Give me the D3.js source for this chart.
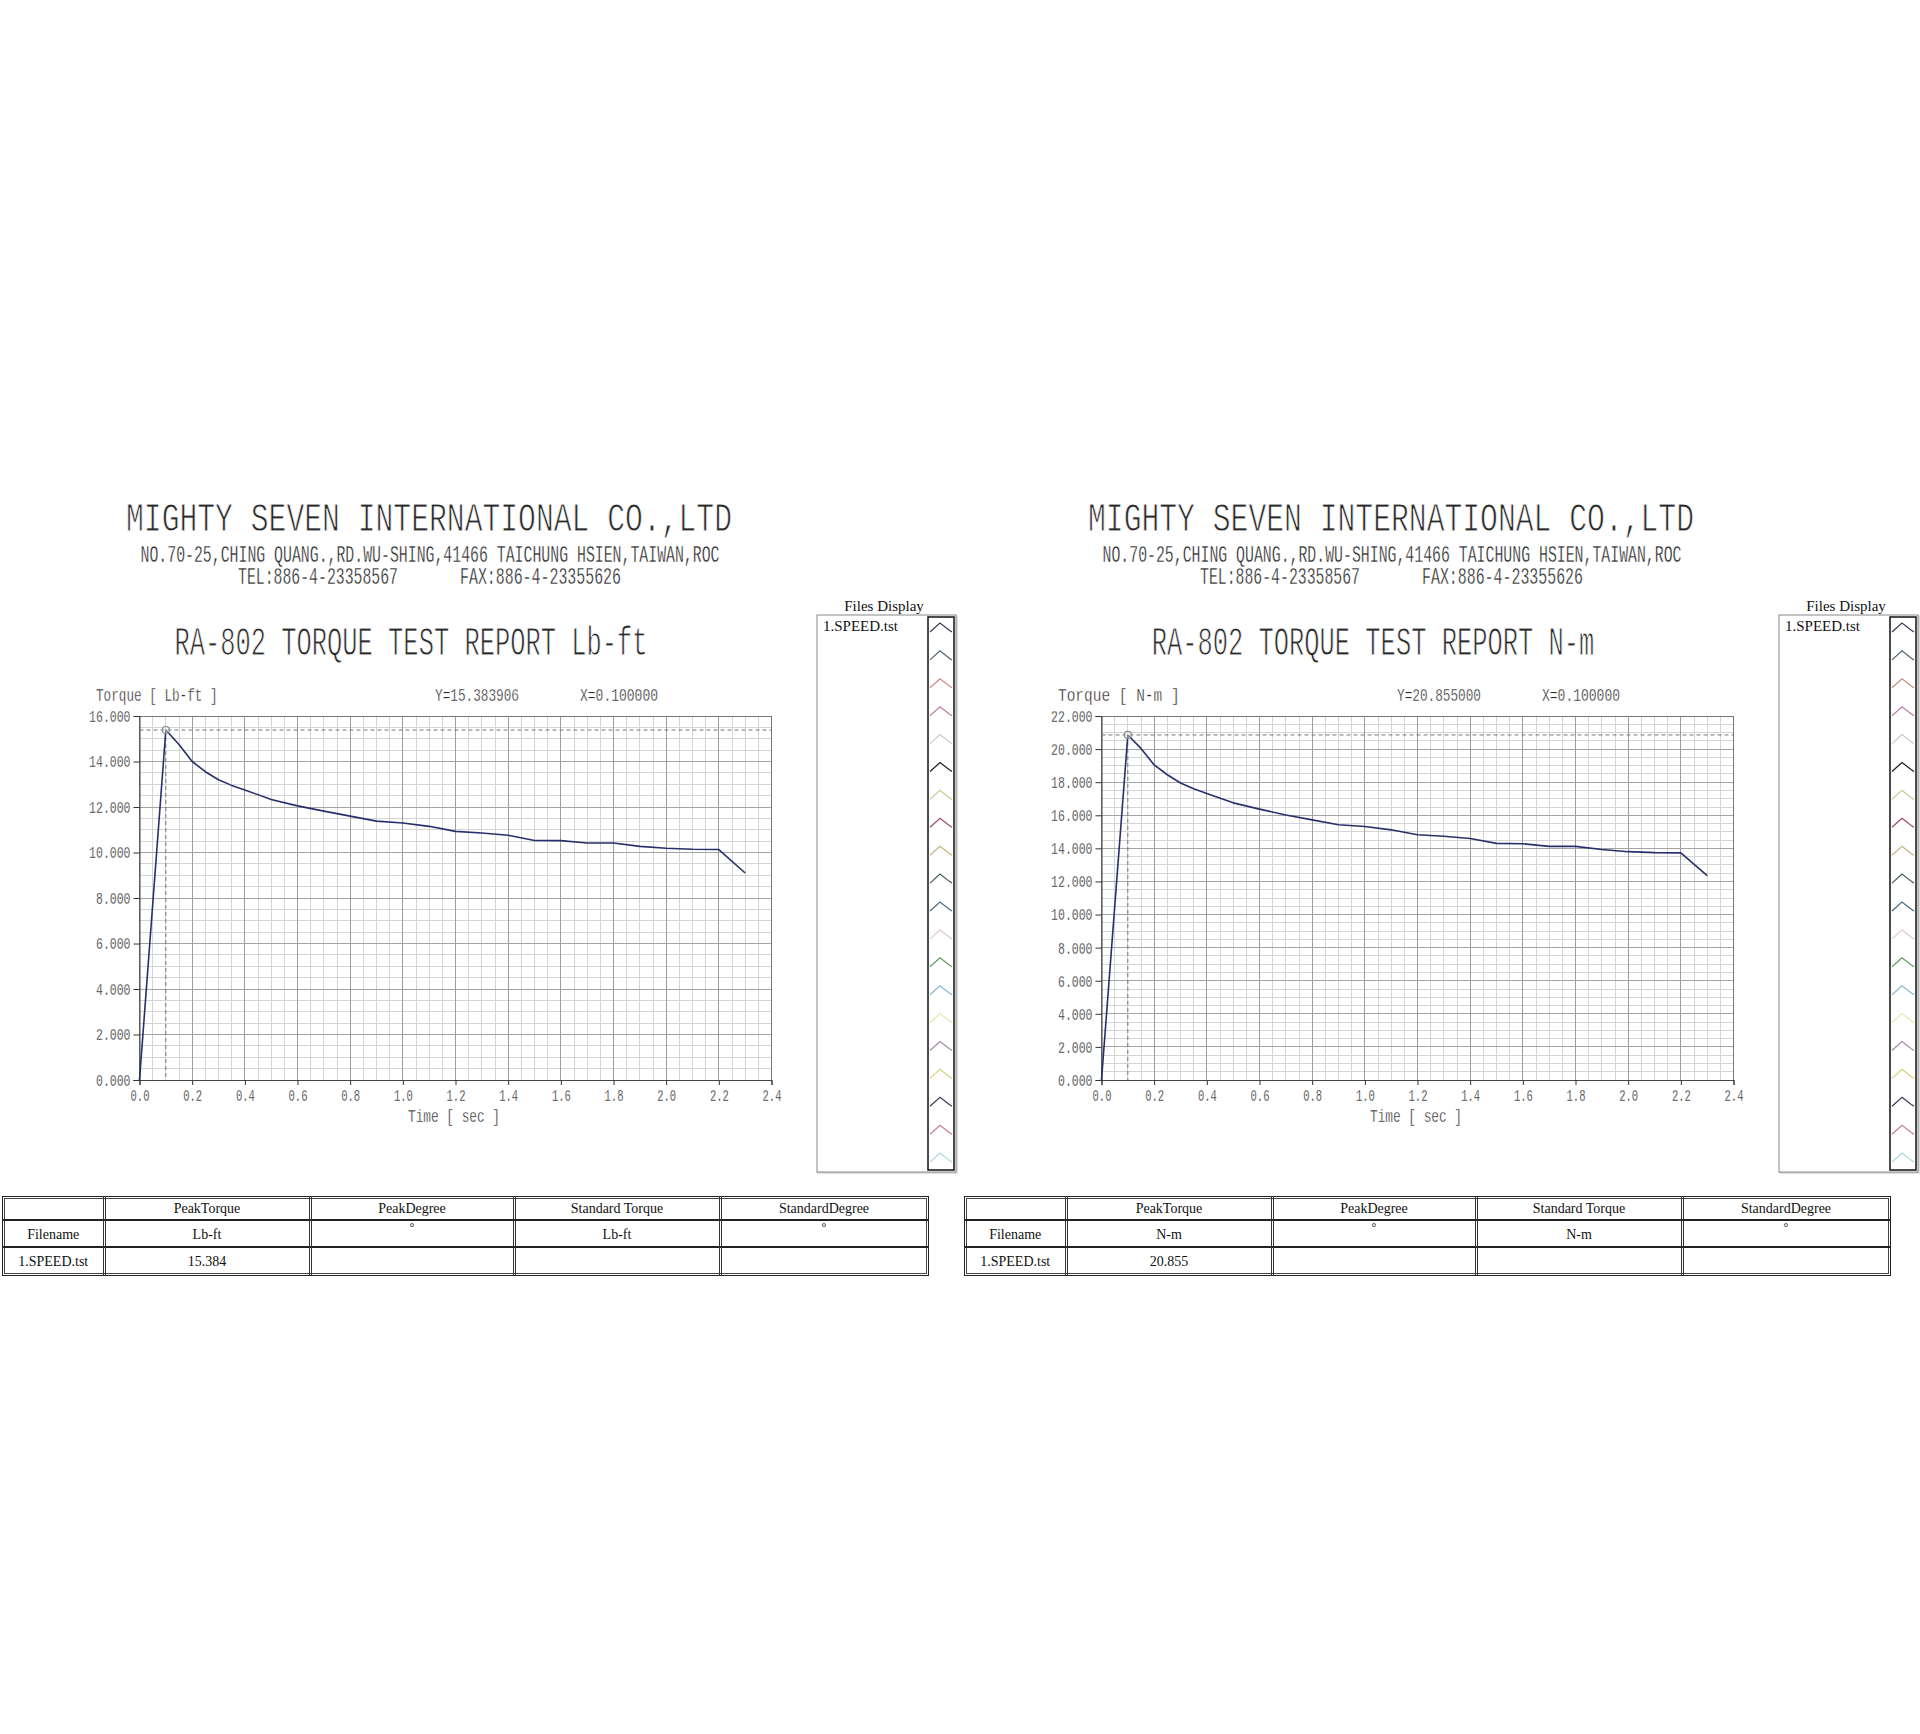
<!DOCTYPE html>
<html>
<head>
<meta charset="utf-8">
<script src="https://cdn.jsdelivr.net/npm/d3@7"></script>
<style>
  body { margin: 0; background: #fff; }
  svg { display: block; }
</style>
</head>
<body>
<svg id="report"></svg>
<script>
var pageWidth = 1920,
    pageHeight = 1734,
    panelShift = 962;

// header texts
var companyName = 'MIGHTY SEVEN INTERNATIONAL CO.,LTD';
var companyAddress = 'NO.70-25,CHING QUANG.,RD.WU-SHING,41466 TAICHUNG HSIEN,TAIWAN,ROC';
var companyTel = 'TEL:886-4-23358567';
var companyFax = 'FAX:886-4-23355626';

// one test file, sampled over time
var times = [0, 0.05, 0.1, 0.15, 0.2, 0.25, 0.3, 0.35, 0.4, 0.5, 0.6, 0.7, 0.8, 0.9,
    1.0, 1.1, 1.2, 1.3, 1.4, 1.5, 1.6, 1.7, 1.8, 1.9, 2.0, 2.1, 2.2, 2.3];
var torqueLbft = [0, 7.69, 15.384, 14.75, 14.0, 13.55, 13.2, 12.95, 12.75, 12.33, 12.05, 11.82, 11.6, 11.38,
    11.3, 11.15, 10.93, 10.86, 10.76, 10.53, 10.52, 10.42, 10.42, 10.27, 10.19, 10.14, 10.13, 9.1];
var torqueNm = [0, 10.43, 20.855, 20.04, 19.04, 18.45, 17.95, 17.6, 17.32, 16.75, 16.37, 16.02, 15.72, 15.43,
    15.32, 15.12, 14.82, 14.73, 14.6, 14.3, 14.28, 14.12, 14.12, 13.93, 13.8, 13.74, 13.73, 12.35];

var xTicks = [0, 0.2, 0.4, 0.6, 0.8, 1.0, 1.2, 1.4, 1.6, 1.8, 2.0, 2.2, 2.4];
var yTicksLbft = [0, 2, 4, 6, 8, 10, 12, 14, 16];
var yTicksNm = [0, 2, 4, 6, 8, 10, 12, 14, 16, 18, 20, 22];

var fileNames = ['1.SPEED.tst'];
var tableHeaders = ['', 'PeakTorque', 'PeakDegree', 'Standard Torque', 'StandardDegree'];
var iconColors = ['#3a3a58', '#4a6272', '#c88c7c', '#b87cac', '#c8c8d2', '#1e1e1e', '#c8c88e',
    '#a44a5c', '#c4b47c', '#3c5e46', '#4a6a86', '#e2c6d6', '#5a9c5a', '#8ab6ce', '#e6e6aa',
    '#a68aaa', '#d6d27c', '#3a3a5c', '#c67c96', '#a8d8de'];

var panels = [
    { unit: 'Lb-ft', axisUnit: 'Lb-ft', values: torqueLbft, yTicks: yTicksLbft, readout: 'Y=15.383906' },
    { unit: 'N-m', axisUnit: 'N-m  ', values: torqueNm, yTicks: yTicksNm, readout: 'Y=20.855000' }
];

var monoFont = '"Liberation Mono", "DejaVu Sans Mono", monospace',
    serifFont = '"Liberation Serif", "DejaVu Serif", serif',
    lineColor = '#28306c';

var svg = d3.select('svg#report')
    .attr('width', pageWidth)
    .attr('height', pageHeight);

svg.append('rect').attr('width', pageWidth).attr('height', pageHeight).attr('fill', '#fff');

panels.forEach(function (p, i) {
    drawPanel(svg.append('g').attr('transform', 'translate(' + (i * panelShift) + ',0)'), p);
});

function squeeze(sel, perChar) {
    sel.each(function () {
        var t = d3.select(this);
        t.attr('textLength', t.text().length * perChar).attr('lengthAdjust', 'spacingAndGlyphs');
    });
    return sel;
}

// thin condensed text, like the printer font of the report
function label(g, text, x, y, size, width, anchor) {
    return g.append('text')
        .attr('x', x).attr('y', y)
        .attr('font-family', monoFont)
        .attr('font-size', size)
        .attr('fill', '#2a2a2a')
        .attr('stroke', '#fff')
        .attr('stroke-width', size > 30 ? 0.9 : 0.35)
        .attr('text-anchor', anchor || 'start')
        .attr('textLength', width)
        .attr('lengthAdjust', 'spacingAndGlyphs')
        .text(text);
}

function drawPanel(g, p) {
    var yMax = p.yTicks[p.yTicks.length - 1];
    var x = d3.scaleLinear().domain([0, 2.4]).range([139.5, 771.5]);
    var y = d3.scaleLinear().domain([0, yMax]).range([1080, 716]);

    // report header
    label(g, companyName, 429, 531, 40, 606, 'middle');
    label(g, companyAddress, 430, 562, 23, 579, 'middle');
    label(g, companyTel, 238, 584, 23, 160);
    label(g, companyFax, 460, 584, 23, 161);
    var title = 'RA-802 TORQUE TEST REPORT ' + p.unit;
    label(g, title, 411, 655, 40, title.length * 15.26, 'middle');

    // readouts above the plot
    var axisTitle = 'Torque [ ' + p.axisUnit + ' ]';
    label(g, axisTitle, 96, 701, 18, axisTitle.length * 7.6);
    label(g, p.readout, 435, 701, 18, 84);
    label(g, 'X=0.100000', 580, 701, 18, 78);

    // grid
    var grid = g.append('g').attr('shape-rendering', 'crispEdges');
    grid.selectAll('line.minor-x').data(d3.range(1, 48)).join('line')
        .attr('class', 'minor-x')
        .attr('x1', function (d) { return x(d * 0.05); })
        .attr('x2', function (d) { return x(d * 0.05); })
        .attr('y1', y(0)).attr('y2', y(yMax))
        .attr('stroke', '#d4d4d4');
    grid.selectAll('line.minor-y').data(d3.range(1, yMax * 2)).join('line')
        .attr('class', 'minor-y')
        .attr('y1', function (d) { return y(d * 0.5); })
        .attr('y2', function (d) { return y(d * 0.5); })
        .attr('x1', x(0)).attr('x2', x(2.4))
        .attr('stroke', '#d4d4d4');
    grid.selectAll('line.major-x').data(xTicks.slice(1, -1)).join('line')
        .attr('class', 'major-x')
        .attr('x1', x).attr('x2', x)
        .attr('y1', y(0)).attr('y2', y(yMax))
        .attr('stroke', '#9c9c9c');
    grid.selectAll('line.major-y').data(p.yTicks.slice(1, -1)).join('line')
        .attr('class', 'major-y')
        .attr('y1', y).attr('y2', y)
        .attr('x1', x(0)).attr('x2', x(2.4))
        .attr('stroke', '#a4a4a4');
    grid.append('rect')
        .attr('x', x(0)).attr('y', y(yMax))
        .attr('width', x(2.4) - x(0)).attr('height', y(0) - y(yMax))
        .attr('fill', 'none').attr('stroke', '#777');

    // axes
    var yAxis = g.append('g')
        .attr('transform', 'translate(' + x(0) + ',0)')
        .call(d3.axisLeft(y).tickValues(p.yTicks).tickFormat(d3.format('.3f')).tickSize(6).tickPadding(3));
    var xAxis = g.append('g')
        .attr('transform', 'translate(0,' + y(0) + ')')
        .call(d3.axisBottom(x).tickValues(xTicks).tickFormat(d3.format('.1f')).tickSize(5).tickPadding(4));
    [yAxis, xAxis].forEach(function (a) {
        a.select('.domain').attr('stroke', '#444');
        a.selectAll('.tick line').attr('stroke', '#333');
        a.selectAll('.tick text')
            .attr('font-family', monoFont)
            .attr('font-size', 17)
            .attr('fill', '#2a2a2a')
            .attr('stroke', '#fff')
            .attr('stroke-width', 0.3);
    });
    squeeze(yAxis.selectAll('.tick text'), 6.9);
    squeeze(xAxis.selectAll('.tick text'), 6.3);
    label(g, 'Time [ sec ]', 454, 1122, 18, 92, 'middle');

    // peak cursor
    var peakIndex = d3.maxIndex(p.values);
    var peakX = x(times[peakIndex]), peakY = y(p.values[peakIndex]);
    g.append('line')
        .attr('x1', x(0)).attr('x2', x(2.4)).attr('y1', peakY).attr('y2', peakY)
        .attr('stroke', '#777').attr('stroke-dasharray', '4,3');
    g.append('line')
        .attr('x1', peakX).attr('x2', peakX).attr('y1', peakY).attr('y2', y(0))
        .attr('stroke', '#777').attr('stroke-dasharray', '4,3');

    // torque curve
    var line = d3.line()
        .x(function (d, i) { return x(times[i]); })
        .y(function (d) { return y(d); });
    g.append('path')
        .datum(p.values)
        .attr('d', line)
        .attr('fill', 'none')
        .attr('stroke', lineColor)
        .attr('stroke-width', 1.6)
        .attr('stroke-linejoin', 'round');
    g.append('circle')
        .attr('cx', peakX).attr('cy', peakY).attr('r', 3.5)
        .attr('fill', '#fff').attr('fill-opacity', 0.4)
        .attr('stroke', '#888').attr('stroke-width', 1.2);

    drawFilesBox(g);
    drawTable(g, p);
}

function drawFilesBox(g) {
    var box = { x: 817, y: 615, w: 139, h: 557 };
    g.append('text')
        .attr('x', 884).attr('y', 611)
        .attr('text-anchor', 'middle')
        .attr('font-family', serifFont).attr('font-size', 15)
        .attr('fill', '#111')
        .text('Files Display');
    g.append('rect')
        .attr('x', box.x + 1).attr('y', box.y + 1).attr('width', box.w).attr('height', box.h)
        .attr('fill', 'none').attr('stroke', '#bbb');
    g.append('rect')
        .attr('x', box.x).attr('y', box.y).attr('width', box.w).attr('height', box.h)
        .attr('fill', '#fff').attr('stroke', '#888');
    g.selectAll('text.file').data(fileNames).join('text')
        .attr('class', 'file')
        .attr('x', 823).attr('y', function (d, i) { return 631 + i * 16; })
        .attr('font-family', serifFont).attr('font-size', 15)
        .attr('fill', '#111')
        .text(function (d) { return d; });

    var strip = { x: 928, y: 617, w: 26, h: 553 };
    g.append('rect')
        .attr('x', strip.x).attr('y', strip.y).attr('width', strip.w).attr('height', strip.h)
        .attr('fill', 'none').attr('stroke', '#111').attr('stroke-width', 1.5);
    var chevron = d3.line()([[2, 12], [12, 3], [21, 10], [24, 12]]);
    g.selectAll('path.icon').data(iconColors).join('path')
        .attr('class', 'icon')
        .attr('transform', function (d, i) { return 'translate(' + strip.x + ',' + (620 + i * 27.9) + ')'; })
        .attr('d', chevron)
        .attr('fill', 'none')
        .attr('stroke', function (d) { return d; })
        .attr('stroke-width', 1.2);
}

function drawTable(g, p) {
    var cols = [2.5, 104, 310, 514, 720, 928],
        rows = [1196, 1220, 1247, 1275];
    var rowTexts = [
        tableHeaders,
        ['Filename', p.unit, '\u00b0', p.unit, '\u00b0'],
        [fileNames[0], d3.format('.3f')(p.values[d3.maxIndex(p.values)]), '', '', '']
    ];
    var t = g.append('g').attr('shape-rendering', 'crispEdges');
    // outer double frame
    t.append('rect')
        .attr('x', cols[0]).attr('y', rows[0])
        .attr('width', cols[5] - cols[0]).attr('height', rows[3] - rows[0])
        .attr('fill', 'none').attr('stroke', '#222').attr('stroke-width', 1);
    t.append('rect')
        .attr('x', cols[0] + 2).attr('y', rows[0] + 2)
        .attr('width', cols[5] - cols[0] - 4).attr('height', rows[3] - rows[0] - 4)
        .attr('fill', 'none').attr('stroke', '#444').attr('stroke-width', 1);
    t.selectAll('line.row').data(rows.slice(1, 3)).join('line')
        .attr('class', 'row')
        .attr('x1', cols[0]).attr('x2', cols[5])
        .attr('y1', function (d) { return d; }).attr('y2', function (d) { return d; })
        .attr('stroke', '#222').attr('stroke-width', 2);
    cols.slice(1, 5).forEach(function (c) {
        [c - 1, c + 1].forEach(function (cx) {
            t.append('line')
                .attr('x1', cx).attr('x2', cx).attr('y1', rows[0]).attr('y2', rows[3])
                .attr('stroke', '#333');
        });
    });
    rowTexts.forEach(function (texts, r) {
        texts.forEach(function (txt, c) {
            var isDegree = txt === '\u00b0';
            g.append('text')
                .attr('x', (cols[c] + cols[c + 1]) / 2)
                .attr('y', isDegree ? rows[r] + 11 : (rows[r] + rows[r + 1]) / 2 + 5)
                .attr('text-anchor', 'middle')
                .attr('font-family', serifFont)
                .attr('font-size', isDegree ? 12 : 14)
                .attr('fill', '#111')
                .text(txt);
        });
    });
}
</script>
</body>
</html>
